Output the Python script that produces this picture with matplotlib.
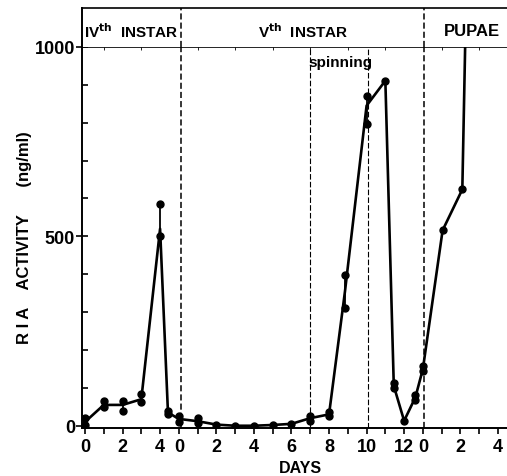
import matplotlib.pyplot as plt
import numpy as np

plt.rcParams['font.family'] = ['Liberation Sans', 'DejaVu Sans']
plt.rcParams['font.weight'] = 'bold'

# offsets of each stage on the shared day axis
stage_start = {"IV": 0, "V": 5, "P": 18}

# line through the mean values (day within stage, ng/ml)
iv_days = [0, 1, 2, 3, 4, 4.42]
iv_mean = [10, 55, 55, 70, 520, 35]
v_days = [0, 1, 2, 3, 4, 5, 6, 7, 8, 8.85, 10, 11, 11.45, 12, 12.6]
v_mean = [18, 12, 3, 0, 0, 2, 5, 20, 30, 355, 845, 911, 105, 13, 75]
p_days = [0, 1.05, 2.1, 2.25]
p_mean = [150, 516, 624, 1000]

# individual determinations (dots)
iv_dot_days = [0, 0, 1, 1, 2, 2, 3, 3, 4, 4, 4.42, 4.42]
iv_dot_vals = [20, 3, 65, 50, 65, 40, 85, 62, 585, 500, 40, 30]
v_dot_days = [0, 0, 1, 1, 2, 3, 4, 5, 6, 7, 7, 8, 8, 8.85, 8.85, 10, 10, 11,
              11.45, 11.45, 12, 12.6, 12.6]
v_dot_vals = [25, 10, 20, 8, 2, 0, 0, 2, 5, 25, 13, 37, 25, 397, 310, 871, 797,
              911, 113, 100, 13, 82, 68]
p_dot_days = [0, 0, 1.05, 2.1]
p_dot_vals = [158, 145, 516, 624]

# stage boundaries and markers (day axis positions)
boundaries = [5.1, 18.05]
spinning_lines = [12.0, 15.05]

tick_pos = [0, 2, 4, 5, 7, 9, 11, 13, 15, 17, 18, 20, 22]
tick_lab = ["0", "2", "4", "0", "2", "4", "6", "8", "10", "12", "0", "2", "4"]


def to_axis(stage, days):
    return [stage_start[stage] + d for d in days]


line_x = to_axis("IV", iv_days) + to_axis("V", v_days) + to_axis("P", p_days)
line_y = iv_mean + v_mean + p_mean
dot_x = to_axis("IV", iv_dot_days) + to_axis("V", v_dot_days) + to_axis("P", p_dot_days)
dot_y = iv_dot_vals + v_dot_vals + p_dot_vals

fig = plt.figure(figsize=(5.07, 4.77), dpi=100)
ax = fig.add_axes([0.1617, 0.1006, 0.8383, 0.7988])
hx = fig.add_axes([0.1617, 0.8994, 0.8383, 0.0818], sharex=ax)

ax.plot(line_x, line_y, color='black', lw=1.9, solid_joinstyle='round', zorder=3)
ax.plot(dot_x, dot_y, 'o', color='black', ms=5, zorder=4)
# thin bars joining replicate pairs
for xx in sorted(set(dot_x)):
    ys = [v for x2, v in zip(dot_x, dot_y) if x2 == xx]
    if len(ys) > 1:
        ax.vlines(xx, min(ys), max(ys), color='black', lw=1.3, zorder=3)

for b in boundaries:
    ax.axvline(b, color='black', lw=1.1, ls=(0, (4, 2)))
    hx.axvline(b, color='black', lw=1.1, ls=(0, (4, 2)))
for s in spinning_lines:
    ax.axvline(s, color='black', lw=0.8, ls=(0, (5, 2)))

ax.set_xlim(-0.16, 22.48)
ax.set_ylim(-6, 1000)

ax.set_xticks(range(0, 23), minor=True)
ax.set_xticks(tick_pos)
ax.set_xticklabels(tick_lab)
ax.set_yticks([0, 500, 1000])
ax.set_yticks(range(0, 1001, 100), minor=True)
ax.tick_params(axis='x', which='both', direction='out', length=4, width=1.2,
               labelsize=13, pad=3)
ax.tick_params(axis='y', which='major', direction='inout', length=8, width=1.2,
               labelsize=13, pad=1)
ax.tick_params(axis='y', which='minor', direction='in', length=4, width=1.2)
for lab in ax.get_xticklabels() + ax.get_yticklabels():
    lab.set_fontweight('bold')

ax.spines['right'].set_visible(False)
ax.spines['top'].set_linewidth(1.2)
ax.spines['left'].set_linewidth(1.4)
ax.spines['bottom'].set_linewidth(1.4)

ax.text(11.9, 950, "spinning", fontsize=11, fontweight='bold')

hx.set_ylim(0, 1)
hx.spines['right'].set_visible(False)
hx.spines['bottom'].set_visible(False)
hx.spines['left'].set_linewidth(1.4)
hx.spines['top'].set_linewidth(1.2)
hx.tick_params(left=False, bottom=False, labelleft=False, labelbottom=False)
hx.text(-0.05, 0.42, r"IV$^{\mathbf{th}}$  INSTAR", fontsize=11,
        fontweight='bold', va='center')
hx.text(9.2, 0.42, r"V$^{\mathbf{th}}$  INSTAR", fontsize=11,
        fontweight='bold', va='center')
hx.text(19.1, 0.42, "PUPAE", fontsize=12, fontweight='bold', va='center')

fig.text(0.049, 0.502, "R I A    ACTIVITY      (ng/ml)", rotation=90,
         ha='center', va='center', fontsize=12, fontweight='bold')
fig.text(0.592, 0.018, "DAYS", ha='center', va='center', fontsize=11.5,
         fontweight='bold')

fig.savefig("out.png", dpi=100)
